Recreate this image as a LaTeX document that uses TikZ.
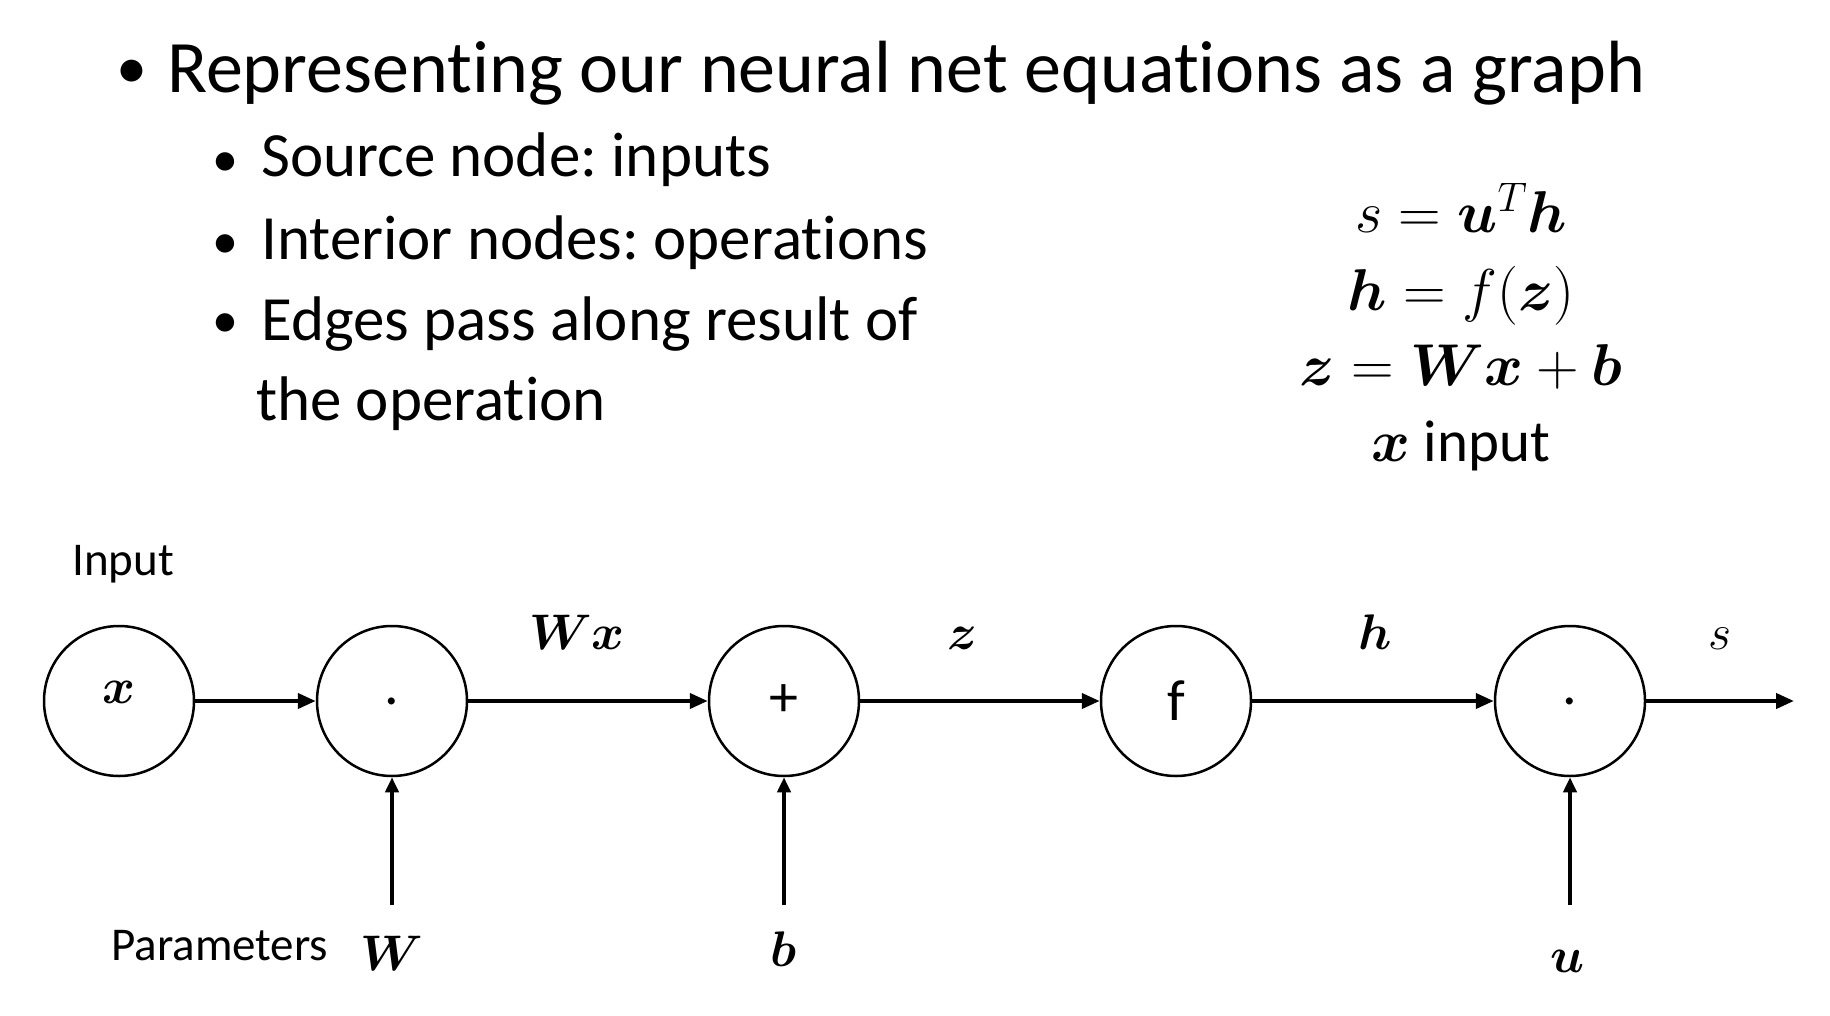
\RequirePackage{fix-cm}
\documentclass[tikz,border=0pt]{standalone}
\usepackage{amsmath}
\usepackage{bm}
\usepackage{fontspec}
\setmainfont{Carlito}[Ligatures=NoCommon]
\frenchspacing
\usetikzlibrary{arrows.meta}
\tikzset{
  opnode/.style={circle,draw,line width=2.5pt,minimum size=150pt,inner sep=0pt,font=\fontsize{58}{68}\selectfont},
  flow/.style={line width=4pt,-{Triangle[length=18pt,width=15pt]}},
  upflow/.style={line width=4pt,-{Triangle[length=15pt,width=13pt]}},
  mlabel/.style={anchor=base,inner sep=0pt,font=\fontsize{50}{60}\selectfont},
  small/.style={anchor=base west,inner sep=0pt,font=\fontsize{47}{56}\selectfont},
  head/.style={anchor=base west,inner sep=0pt,font=\fontsize{74}{88}\selectfont},
  sub/.style={anchor=base west,inner sep=0pt,font=\fontsize{63}{74}\selectfont},
  bul/.style={anchor=center,inner sep=0pt,font=\fontsize{62}{72}\selectfont},
  subbul/.style={anchor=center,inner sep=0pt,font=\fontsize{52}{62}\selectfont},
  eqn/.style={anchor=base,inner sep=0pt,font=\fontsize{59}{70}\selectfont},
}
\begin{document}
\begin{tikzpicture}[x=1pt,y=-1pt]
\useasboundingbox (0,0) rectangle (1830,1016);
% bullet text
\node[bul] (b0) at (132,74) {•};
\node[head] (t0) at (167,93) {Representing our neural net equations as a graph};
\node[subbul] (b1) at (225,165) {•};
\node[sub] (t1) at (261,177) {Source node: inputs};
\node[subbul] (b2) at (225,247) {•};
\node[sub] (t2) at (261,259) {Interior nodes: operations};
\node[subbul] (b3) at (225,326) {•};
\node[sub] (t3) at (261,340) {Edges pass along result of};
\node[sub] (t4) at (256,420) {the operation};
% equations
\node[eqn] (e1) at (1461,233) {$s=\bm{u}^{T}\bm{h}$};
\node[eqn] (e2) at (1461,310) {$\bm{h}=f(\bm{z})$};
\node[eqn] (e3) at (1461,385) {$\bm{z}=\bm{W}\bm{x}+\bm{b}$};
\node[eqn] (e4) at (1461,461) {$\bm{x}$ input};
% graph
\node[small] (inlab) at (72,575) {Input};
\node[small] (parlab) at (111,960) {Parameters};
\node[opnode] (x) at (119,701) {\raisebox{-2pt}[0pt][0pt]{\fontsize{50}{60}\selectfont$\bm{x}$}};
\node[opnode] (d1) at (392,701) {.};
\node[opnode] (p) at (784,701) {+};
\node[opnode] (f) at (1176,701) {f};
\node[opnode] (d2) at (1570,701) {.};
\coordinate (out) at (1794,701);
\coordinate (cW) at (392,905);
\coordinate (cb) at (784,905);
\coordinate (cu) at (1570,905);
\draw[flow] (x) -- (d1);
\draw[flow] (d1) -- (p);
\draw[flow] (p) -- (f);
\draw[flow] (f) -- (d2);
\draw[flow] (d2) -- (out);
\draw[upflow] (cW) -- (d1);
\draw[upflow] (cb) -- (p);
\draw[upflow] (cu) -- (d2);
\node[mlabel] (lWx) at (577,649) {$\bm{W}\bm{x}$};
\node[mlabel] (lz) at (962,649) {$\bm{z}$};
\node[mlabel] (lh) at (1375,649) {$\bm{h}$};
\node[mlabel] (ls) at (1720,649) {$s$};
\node[mlabel] (lW) at (392,970) {$\bm{W}$};
\node[mlabel] (lb) at (784,966) {$\bm{b}$};
\node[mlabel] (lu) at (1568,972) {$\bm{u}$};
\end{tikzpicture}
\end{document}
